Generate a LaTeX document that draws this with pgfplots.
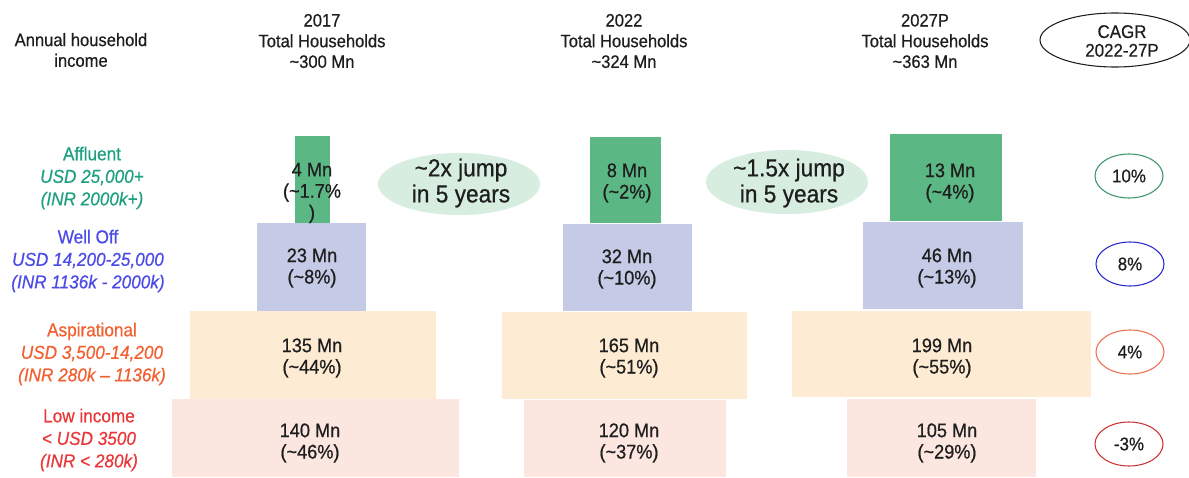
\documentclass[border=0pt]{standalone}
\usepackage{fontspec}
\setmainfont[FakeStretch=0.92,FakeBold=0.6]{Liberation Sans}
\usepackage{pgfplots}
\pgfplotsset{compat=1.18}
\usetikzlibrary{shapes.geometric}
\definecolor{affl}{RGB}{91,183,132}
\definecolor{well}{RGB}{197,202,230}
\definecolor{asp}{RGB}{254,235,212}
\definecolor{low}{RGB}{252,230,224}
\definecolor{tAffl}{RGB}{30,160,128}
\definecolor{tWell}{RGB}{75,75,230}
\definecolor{tAsp}{RGB}{242,96,48}
\definecolor{tLow}{RGB}{232,56,58}
\definecolor{jump}{RGB}{214,237,224}
\definecolor{eAffl}{RGB}{60,150,105}
\definecolor{eWell}{RGB}{40,40,210}
\definecolor{eAsp}{RGB}{240,110,80}
\definecolor{eLow}{RGB}{205,50,50}
\definecolor{txt}{RGB}{30,30,30}
\newcommand\hdr{\fontsize{13.5}{15.5}\selectfont}
\newcommand\lbl{\fontsize{14.8}{16}\selectfont}
\newcommand\cat{\fontsize{14}{16.9}\selectfont}
\newcommand\jmp{\fontsize{18.5}{19.5}\selectfont}
\newcommand\cg{\fontsize{13.8}{14}\selectfont}
\newcommand\tl{\textasciitilde}
\begin{document}
\begin{tikzpicture}
\begin{axis}[width=891.75pt,height=358.5pt,scale only axis,
  xmin=0,xmax=1189,ymin=0,ymax=478,y dir=reverse,hide axis,clip=false]
% ---- 2017 ----
\addplot[fill=affl,draw=none] coordinates {(295,136)(330,136)(330,223)(295,223)} -- cycle;
\addplot[fill=well,draw=none] coordinates {(257,223)(366,223)(366,311)(257,311)} -- cycle;
\addplot[fill=asp,draw=none] coordinates {(190,311)(436,311)(436,399)(190,399)} -- cycle;
\addplot[fill=low,draw=none] coordinates {(172,399)(459,399)(459,477)(172,477)} -- cycle;
% ---- 2022 ----
\addplot[fill=affl,draw=none] coordinates {(590,137)(661,137)(661,223)(590,223)} -- cycle;
\addplot[fill=well,draw=none] coordinates {(563,224)(692,224)(692,311)(563,311)} -- cycle;
\addplot[fill=asp,draw=none] coordinates {(502,312)(747,312)(747,399)(502,399)} -- cycle;
\addplot[fill=low,draw=none] coordinates {(524,400)(726,400)(726,477)(524,477)} -- cycle;
% ---- 2027P ----
\addplot[fill=affl,draw=none] coordinates {(890,134)(1002,134)(1002,221)(890,221)} -- cycle;
\addplot[fill=well,draw=none] coordinates {(863,222)(1023,222)(1023,309)(863,309)} -- cycle;
\addplot[fill=asp,draw=none] coordinates {(792,311)(1091,311)(1091,397)(792,397)} -- cycle;
\addplot[fill=low,draw=none] coordinates {(847,399)(1036,399)(1036,477)(847,477)} -- cycle;

% bar labels
\begin{scope}[every node/.style={font=\lbl,align=center,text=txt,inner sep=0pt}]
\node at (axis cs:312,193) {4 Mn\\(\tl1.7\%\\)};
\node at (axis cs:312,268) {23 Mn\\(\tl8\%)};
\node at (axis cs:312,358) {135 Mn\\(\tl44\%)};
\node at (axis cs:310,443) {140 Mn\\(\tl46\%)};
\node at (axis cs:627,183) {8 Mn\\(\tl2\%)};
\node at (axis cs:627,269) {32 Mn\\(\tl10\%)};
\node at (axis cs:629,358) {165 Mn\\(\tl51\%)};
\node at (axis cs:629,443) {120 Mn\\(\tl37\%)};
\node at (axis cs:950,183) {13 Mn\\(\tl4\%)};
\node at (axis cs:947,268) {46 Mn\\(\tl13\%)};
\node at (axis cs:942,358) {199 Mn\\(\tl55\%)};
\node at (axis cs:947,443) {105 Mn\\(\tl29\%)};
\end{scope}

% headers
\begin{scope}[every node/.style={font=\hdr,align=center,text=txt,inner sep=0pt}]
\node at (axis cs:81,50) {Annual household\\income};
\node at (axis cs:322,41) {2017\\Total Households\\\tl300 Mn};
\node at (axis cs:624,41) {2022\\Total Households\\\tl324 Mn};
\node at (axis cs:925,41) {2027P\\Total Households\\\tl363 Mn};
\end{scope}
\node[ellipse,draw=txt,line width=0.8pt,minimum width=112.5pt,minimum height=40.5pt,inner sep=0pt] at (axis cs:1115,40) {};
\node[font=\cg,align=center,text=txt,inner sep=0pt] at (axis cs:1122,41) {CAGR\\2022-27P};

% jump ellipses
\node[ellipse,fill=jump,minimum width=121.5pt,minimum height=46.5pt,inner sep=0pt] at (axis cs:459,184) {};
\node[font=\jmp,align=center,text=txt,inner sep=0pt] at (axis cs:461,183) {\tl2x jump\\in 5 years};
\node[ellipse,fill=jump,minimum width=121.5pt,minimum height=48pt,inner sep=0pt] at (axis cs:787,182) {};
\node[font=\jmp,align=center,text=txt,inner sep=0pt] at (axis cs:789,183) {\tl1.5x jump\\in 5 years};

% CAGR ellipses
\begin{scope}[every node/.style={ellipse,line width=0.8pt,minimum width=51pt,minimum height=33pt,inner sep=0pt,font=\cg,text=txt}]
\node[draw=eAffl] at (axis cs:1129,176) {10\%};
\node[draw=eWell] at (axis cs:1130,264) {8\%};
\node[draw=eAsp] at (axis cs:1130,352) {4\%};
\node[draw=eLow] at (axis cs:1129,444) {-3\%};
\end{scope}

% category labels
\begin{scope}[every node/.style={font=\cat,align=center,inner sep=0pt}]
\node[text=tAffl] at (axis cs:92,178) {Affluent\\\textit{USD 25,000+}\\\textit{(INR 2000k+)}};
\node[text=tWell] at (axis cs:88,261) {Well Off\\\textit{USD 14,200-25,000}\\\textit{(INR 1136k - 2000k)}};
\node[text=tAsp] at (axis cs:92,354) {Aspirational\\\textit{USD 3,500-14,200}\\\textit{(INR 280k – 1136k)}};
\node[text=tLow] at (axis cs:89,440) {Low income\\\textit{< USD 3500}\\\textit{(INR < 280k)}};
\end{scope}
\end{axis}
\pgfresetboundingbox
\path (0,0) rectangle (891.75pt,358.5pt);
\end{tikzpicture}
\end{document}
